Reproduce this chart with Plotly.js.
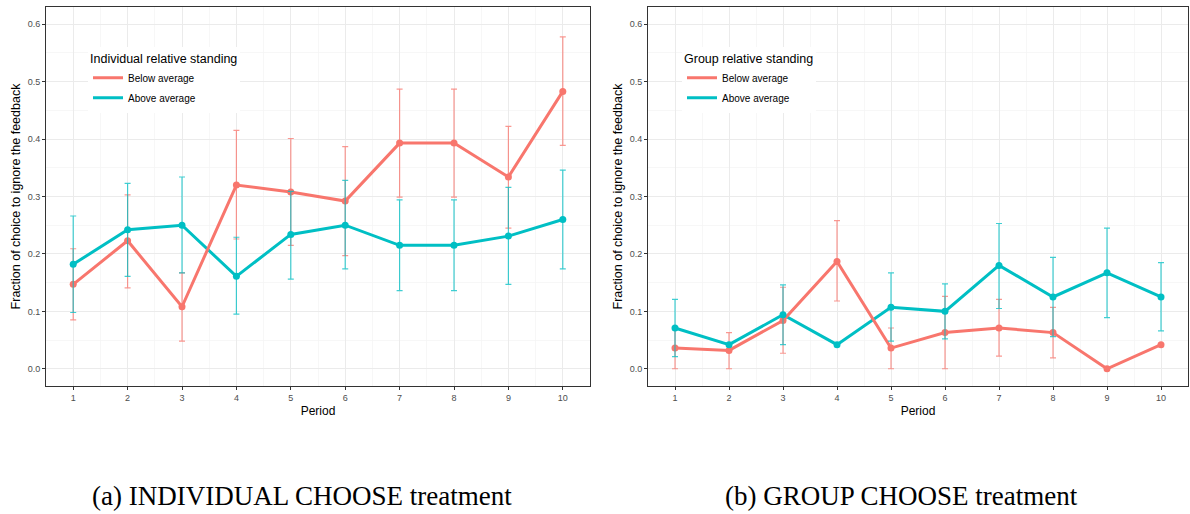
<!DOCTYPE html>
<html><head><meta charset="utf-8">
<script src="https://cdn.plot.ly/plotly-3.0.1.min.js"></script>
<style>html,body{margin:0;padding:0;background:#fff}</style>
</head><body>
<div id="chart" style="width:1190px;height:514px"></div>
<script>
// ---- data ----
const periods = [1,2,3,4,5,6,7,8,9,10];
const seriesNames = ['Below average','Above average'];

// (a) INDIVIDUAL CHOOSE treatment
const indivBelow   = [0.147,0.223,0.108,0.320,0.308,0.292,0.393,0.393,0.334,0.483];
const indivBelowHi = [0.209,0.303,0.167,0.415,0.401,0.387,0.487,0.487,0.422,0.578];
const indivBelowLo = [0.085,0.141,0.048,0.226,0.215,0.197,0.299,0.299,0.245,0.389];
const indivAbove   = [0.182,0.242,0.250,0.161,0.234,0.250,0.215,0.215,0.231,0.260];
const indivAboveHi = [0.266,0.323,0.334,0.229,0.309,0.328,0.294,0.294,0.316,0.346];
const indivAboveLo = [0.098,0.161,0.167,0.095,0.156,0.174,0.136,0.136,0.147,0.174];

// (b) GROUP CHOOSE treatment
const groupBelow   = [0.036,0.032,0.084,0.187,0.036,0.063,0.071,0.063,0.000,0.042];
const groupBelowHi = [0.072,0.063,0.142,0.258,0.071,0.126,0.121,0.107,null,null];
const groupBelowLo = [0.000,0.000,0.027,0.118,0.000,0.000,0.022,0.019,null,null];
const groupAbove   = [0.071,0.042,0.094,0.042,0.107,0.100,0.180,0.125,0.167,0.125];
const groupAboveHi = [0.121,null,0.146,null,0.167,0.148,0.253,0.194,0.245,0.185];
const groupAboveLo = [0.021,null,0.042,null,0.048,0.052,0.105,0.056,0.089,0.066];

const legendTitles = ['Individual relative standing','Group relative standing'];
const captions = ['(a) INDIVIDUAL CHOOSE treatment','(b) GROUP CHOOSE treatment'];
const xTitle = 'Period';
const yTitle = 'Fraction of choice to ignore the feedback';
const yTicks = [0,0.1,0.2,0.3,0.4,0.5,0.6];

// ---- styling ----
const RED = '#F8766D', CYAN = '#00BFC4';
const RED_E = 'rgba(248,118,109,0.75)', CYAN_E = 'rgba(0,191,196,0.75)';
const FONT = 'Liberation Sans, Arial, sans-serif';

function errs(mean, hi, lo){
  return {
    up: mean.map((m,i)=> hi[i]==null ? NaN : hi[i]-m),
    down: mean.map((m,i)=> lo[i]==null ? NaN : m-lo[i])
  };
}

function panelTraces(below, bHi, bLo, above, aHi, aLo, xa, ya, leg){
  const eb = errs(below,bHi,bLo), ea = errs(above,aHi,aLo);
  const tr = [];
  // lines (legend entries)
  tr.push({x:periods,y:above,xaxis:xa,yaxis:ya,mode:'lines',name:seriesNames[1],legend:leg,legendrank:2,
    legendgroup:leg+'a',line:{color:CYAN,width:3},hoverinfo:'skip'});
  tr.push({x:periods,y:below,xaxis:xa,yaxis:ya,mode:'lines',name:seriesNames[0],legend:leg,legendrank:1,
    legendgroup:leg+'b',line:{color:RED,width:3},hoverinfo:'skip'});
  // points + error bars
  tr.push({x:periods,y:below,xaxis:xa,yaxis:ya,mode:'markers',showlegend:false,
    marker:{color:RED,size:7},
    error_y:{type:'data',symmetric:false,array:eb.up,arrayminus:eb.down,color:RED_E,thickness:1.2,width:3}});
  tr.push({x:periods,y:above,xaxis:xa,yaxis:ya,mode:'markers',showlegend:false,
    marker:{color:CYAN,size:7},
    error_y:{type:'data',symmetric:false,array:ea.up,arrayminus:ea.down,color:CYAN_E,thickness:1.2,width:3}});
  return tr;
}

const data = [
  ...panelTraces(indivBelow,indivBelowHi,indivBelowLo,indivAbove,indivAboveHi,indivAboveLo,'x','y','legend'),
  ...panelTraces(groupBelow,groupBelowHi,groupBelowLo,groupAbove,groupAboveHi,groupAboveLo,'x2','y2','legend2')
];

const W = 1190, H = 514;
function xAxis(d0,d1,anchor){
  return {domain:[d0/W,d1/W],anchor:anchor,range:[0.5,10.5],tick0:1,dtick:1,
    ticks:'outside',ticklen:3,tickwidth:1,tickcolor:'#333',
    showline:true,mirror:true,linecolor:'#333',linewidth:1,zeroline:false,
    showgrid:true,gridcolor:'#EBEBEB',gridwidth:1,
    minor:{dtick:0.5,showgrid:true,gridcolor:'#F3F3F3',gridwidth:0.7},
    tickfont:{family:FONT,size:9,color:'#4D4D4D'},
    title:{text:xTitle,font:{family:FONT,size:12,color:'#000'},standoff:4},
    automargin:false,fixedrange:true};
}
function yAxis(anchor){
  return {domain:[1-386/H,1-7/H],anchor:anchor,range:[-0.03,0.63],tickvals:yTicks,tickformat:'.1f',
    ticks:'outside',ticklen:3,tickwidth:1,tickcolor:'#333',
    showline:true,mirror:true,linecolor:'#333',linewidth:1,zeroline:false,
    showgrid:true,gridcolor:'#EBEBEB',gridwidth:1,
    minor:{tickvals:[-0.05,0.05,0.15,0.25,0.35,0.45,0.55],showgrid:true,gridcolor:'#F3F3F3',gridwidth:0.7,ticks:''},
    tickfont:{family:FONT,size:9,color:'#4D4D4D'},
    title:{text:yTitle,font:{family:FONT,size:12.5,color:'#000'},standoff:4},
    automargin:false,fixedrange:true};
}
function legendCfg(x,title){
  return {x:x/W,y:1-47/H,xanchor:'left',yanchor:'top',bgcolor:'#fff',borderwidth:0,
    traceorder:'grouped',tracegroupgap:1,
    title:{text:title,font:{family:FONT,size:12.5,color:'#000'}},
    font:{family:FONT,size:10,color:'#000'}};
}

const layout = {
  width:W,height:H,margin:{l:0,r:0,t:0,b:0},
  paper_bgcolor:'#fff',plot_bgcolor:'#fff',
  font:{family:FONT},
  xaxis:xAxis(46,590,'y'),yaxis:yAxis('x'),
  xaxis2:xAxis(648,1188,'y2'),yaxis2:yAxis('x2'),
  legend:legendCfg(88,legendTitles[0]),
  legend2:legendCfg(682,legendTitles[1]),
  annotations:[
    {text:captions[0],x:301.5/W,y:1-496/H,xref:'paper',yref:'paper',xanchor:'center',yanchor:'middle',showarrow:false,
     font:{family:'Liberation Serif, Times New Roman, serif',size:27,color:'#000'}},
    {text:captions[1],x:901.5/W,y:1-496/H,xref:'paper',yref:'paper',xanchor:'center',yanchor:'middle',showarrow:false,
     font:{family:'Liberation Serif, Times New Roman, serif',size:27,color:'#000'}}
  ]
};

Plotly.newPlot('chart',data,layout,{staticPlot:true,displayModeBar:false});
</script>
</body></html>
